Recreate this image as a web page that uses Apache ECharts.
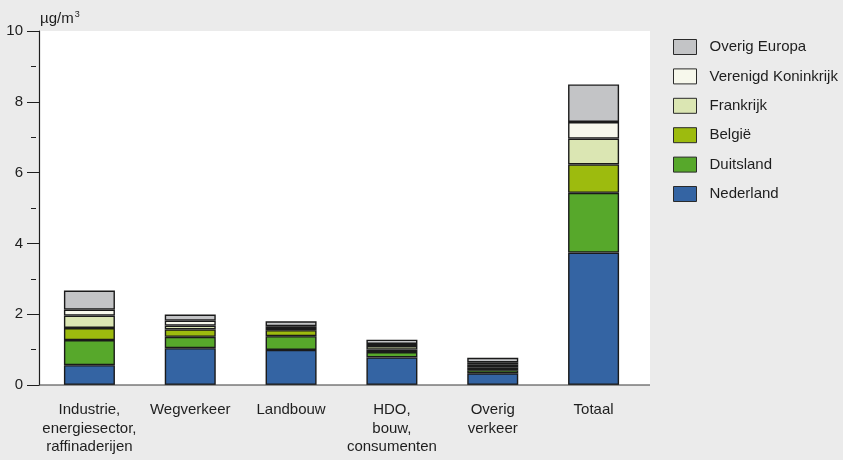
<!DOCTYPE html>
<html>
<head>
<meta charset="utf-8">
<script src="https://cdn.jsdelivr.net/npm/echarts@6/dist/echarts.min.js"></script>
<style>
  html, body { margin: 0; padding: 0; background: #ebebeb; }
  #chart { width: 843px; height: 460px; }
</style>
</head>
<body>
<div id="chart"></div>
<script>
// Sector categories (x axis)
const categories = [
  'Industrie,\nenergiesector,\nraffinaderijen',
  'Wegverkeer',
  'Landbouw',
  'HDO,\nbouw,\nconsumenten',
  'Overig\nverkeer',
  'Totaal'
];

// Contribution per origin, µg/m³
const nederland    = [0.56, 1.04, 0.99, 0.78, 0.33, 3.74];
const duitsland    = [0.71, 0.32, 0.39, 0.15, 0.09, 1.69];
const belgie       = [0.34, 0.21, 0.17, 0.07, 0.08, 0.80];
const frankrijk    = [0.35, 0.11, 0.06, 0.10, 0.07, 0.73];
const verenigdKon  = [0.17, 0.14, 0.05, 0.06, 0.07, 0.47];
const overigEuropa = [0.54, 0.17, 0.14, 0.12, 0.13, 1.06];

const yTicks = [0, 2, 4, 6, 8, 10];

const seriesDefs = [
  { name: 'Nederland',           data: nederland,    color: '#3464a3' },
  { name: 'Duitsland',           data: duitsland,    color: '#57a82b' },
  { name: 'België',              data: belgie,       color: '#9dbb0e' },
  { name: 'Frankrijk',           data: frankrijk,    color: '#dbe6b3' },
  { name: 'Verenigd Koninkrijk', data: verenigdKon,  color: '#f7f8ec' },
  { name: 'Overig Europa',       data: overigEuropa, color: '#c3c4c6' }
];

const FONT = '"Liberation Sans", Arial, sans-serif';
const TXT = '#1e1e1e';

const chart = echarts.init(document.getElementById('chart'), null, { renderer: 'canvas' });

chart.setOption({
  animation: false,
  backgroundColor: '#ebebeb',
  textStyle: { fontFamily: FONT },
  graphic: [
    // white plotting area and base line
    { type: 'rect', z: -10, shape: { x: 39, y: 31, width: 611, height: 354 }, style: { fill: '#ffffff' } },
    { type: 'line', z: 10, shape: { x1: 39, y1: 385, x2: 650, y2: 385 }, style: { stroke: '#3a3a3a', lineWidth: 1.2 } },
    {
      type: 'text', left: 40, top: 10,
      style: {
        text: '{a|µg/m}{s|3}',
        rich: {
          a: { fontSize: 15, fontFamily: FONT, fill: TXT },
          s: { fontSize: 9, fontFamily: FONT, fill: TXT, padding: [0, 0, 9, 1] }
        }
      }
    }
  ],
  legend: {
    orient: 'vertical',
    left: 668,
    top: 34,
    icon: 'rect',
    itemWidth: 23,
    itemHeight: 15,
    itemGap: 13.4,
    align: 'left',
    data: ['Overig Europa', 'Verenigd Koninkrijk', 'Frankrijk', 'België', 'Duitsland', 'Nederland'],
    textStyle: { fontSize: 15, color: TXT, fontFamily: FONT, padding: [0, 0, 0, 8] },
    itemStyle: { borderColor: '#2a2a2a', borderWidth: 1 }
  },
  grid: { left: 39, top: 31, width: 605, height: 354, containLabel: false },
  xAxis: {
    type: 'category',
    data: categories,
    axisLine: { show: false },
    axisTick: { show: false },
    axisLabel: {
      interval: 0, margin: 16, fontSize: 15, lineHeight: 18.5,
      color: TXT, fontFamily: FONT
    }
  },
  yAxis: {
    type: 'value',
    min: 0, max: 10, interval: 2,
    axisLine: { show: true, lineStyle: { color: '#1e1e1e', width: 1.2 } },
    axisTick: { show: true, length: 12, lineStyle: { color: '#1e1e1e', width: 1 } },
    minorTick: {
      show: true, splitNumber: 2, length: 8,
      lineStyle: { color: '#1e1e1e', width: 1, type: [5, 3], dashOffset: 5 }
    },
    splitLine: { show: false },
    axisLabel: {
      margin: 16, fontSize: 15, color: TXT, fontFamily: FONT,
      formatter: v => (yTicks.indexOf(v) >= 0 ? String(v) : '')
    }
  },
  series: seriesDefs.map(s => ({
    name: s.name,
    type: 'bar',
    stack: 'total',
    barWidth: 51,
    data: s.data,
    itemStyle: { color: s.color, borderColor: '#1a1a1a', borderWidth: 1.4 }
  }))
});
</script>
</body>
</html>
